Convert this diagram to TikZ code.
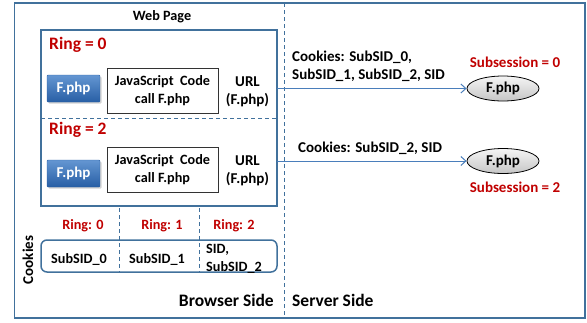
\documentclass[tikz,border=0pt]{standalone}
\usepackage{fontspec}
\setmainfont{Carlito}
\usetikzlibrary{shapes.geometric,arrows.meta,shadows}
\definecolor{frameblue}{RGB}{65,113,156}
\definecolor{arrowblue}{RGB}{74,126,187}
\definecolor{ringred}{RGB}{192,0,0}
\definecolor{btntop}{RGB}{100,150,210}
\definecolor{btnbot}{RGB}{40,95,165}
\begin{document}
\begin{tikzpicture}[x=1pt,y=-1pt,
  every node/.style={font=\bfseries\fontsize{15}{18}\selectfont, inner sep=0pt},
  small/.style={font=\bfseries\fontsize{14.2}{18}\selectfont},
  frame/.style={draw=frameblue, line width=1.5pt},
  dashline/.style={draw=frameblue, line width=1pt, dash pattern=on 4pt off 3pt},
  redlbl/.style={text=ringred},
  bigred/.style={text=ringred, font=\bfseries\fontsize{17.5}{19}\selectfont},
  button/.style={rectangle, rounded corners=1pt, minimum width=53pt, minimum height=27pt, top color=btntop, bottom color=btnbot, draw=btnbot, text=white, drop shadow={shadow xshift=1.5pt, shadow yshift=-1.5pt, opacity=0.35}},
  jsbox/.style={rectangle, draw=black!80, line width=0.8pt, fill=white, minimum width=111pt, minimum height=45pt, align=center, small},
  srv/.style={ellipse, draw=black, line width=0.8pt, top color=gray!8, bottom color=gray!45, minimum width=72pt, minimum height=25pt},
  conn/.style={draw=arrowblue, line width=1pt, -{Straight Barb[length=5pt,width=9pt]}}
]
\useasboundingbox (0,0) rectangle (587,322);
% outer frame
\draw[frame] (14.5,3) rectangle (585,318);
\draw[dashline] (284,3) -- (284,318);
% web page
\node[small] (webtitle) at (162,17) {Web Page};
\draw[frame] (41,30) rectangle (277,206);
\draw[dashline] (41,118) -- (277,118);
\node[bigred, anchor=west] (ring0) at (49,45) {Ring = 0};
\node[bigred, anchor=west] (ring2) at (49,130) {Ring = 2};
\node[button] (btn0) at (73.5,88.5) {F.php};
\node[button] (btn2) at (73.5,173.5) {F.php};
\node[jsbox] (js0) at (162.5,90.5) {JavaScript~~Code\\call F.php};
\node[jsbox] (js2) at (162.5,170) {JavaScript~~Code\\call F.php};
\node[align=center] (url0) at (247.5,92) {URL\\(F.php)};
\node[align=center] (url2) at (247.5,171) {URL\\(F.php)};
% cookies
\draw[frame, rounded corners=6pt] (41,240) rectangle (277,272);
\draw[dashline] (119,208) -- (119,272);
\draw[dashline] (199,208) -- (199,272);
\node[redlbl, small] (c0) at (83,226) {Ring: 0};
\node[redlbl, small] (c1) at (162,226) {Ring: 1};
\node[redlbl, small] (c2) at (234,226) {Ring: 2};
\node[small] (s0) at (79,260) {SubSID\_0};
\node[small] (s1) at (157,260) {SubSID\_1};
\node[small, align=left, anchor=west] (s2) at (206,259) {SID,\\SubSID\_2};
\node[rotate=90] (cookies) at (28,260) {Cookies};
\node[anchor=east, font=\bfseries\fontsize{17.5}{19}\selectfont] (browser) at (274,300) {Browser Side};
\node[anchor=west, font=\bfseries\fontsize{17.5}{19}\selectfont] (server) at (292,300) {Server Side};
% server
\node[srv] (f0) at (503,88.5) {F.php};
\node[srv] (f2) at (503,161) {F.php};
\node[redlbl] (sub0) at (515,62) {Subsession = 0};
\node[redlbl] (sub2) at (515,187) {Subsession = 2};
\coordinate (o0) at (277,88.5);
\coordinate (o2) at (277,161);
\draw[conn] (o0) -- (f0.west);
\draw[conn] (o2) -- (f2.west);
\node[align=left, anchor=west] (lbl0) at (292,66) {Cookies: SubSID\_0,\\SubSID\_1, SubSID\_2, SID};
\node[anchor=west] (lbl2) at (298,148) {Cookies: SubSID\_2, SID};
\end{tikzpicture}
\end{document}
